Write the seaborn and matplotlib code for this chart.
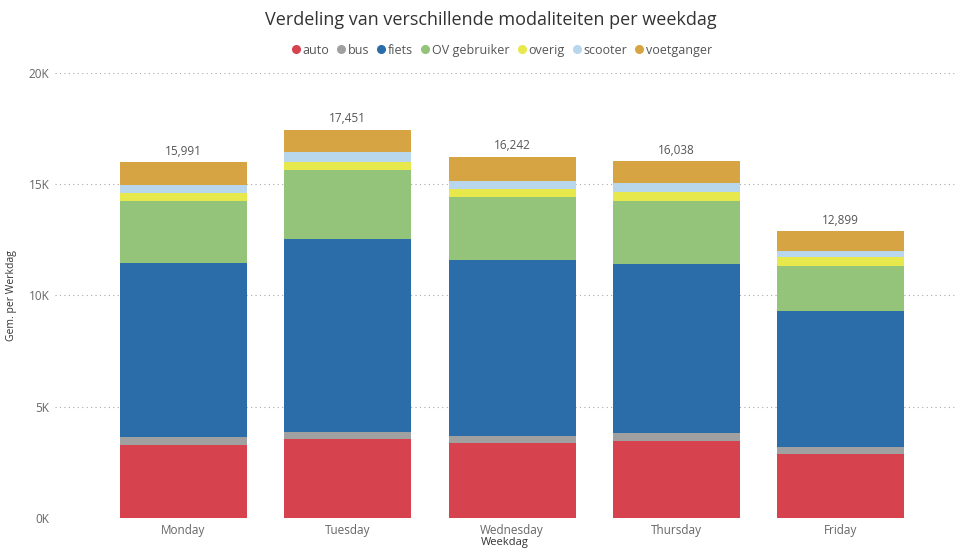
import pandas as pd
import seaborn as sns
import matplotlib.pyplot as plt
from matplotlib.lines import Line2D
from matplotlib.ticker import FuncFormatter

# data (average per weekday)
weekdagen = ["Monday", "Tuesday", "Wednesday", "Thursday", "Friday"]
modaliteiten = ["auto", "bus", "fiets", "OV gebruiker", "overig", "scooter", "voetganger"]
auto = [3280, 3540, 3360, 3480, 2880]
bus = [360, 330, 330, 330, 320]
fiets = [7820, 8670, 7910, 7610, 6100]
ov_gebruiker = [2790, 3100, 2810, 2840, 2030]
overig = [340, 370, 380, 410, 390]
scooter = [380, 450, 370, 370, 290]
voetganger = [1021, 991, 1082, 998, 889]
totalen = [15991, 17451, 16242, 16038, 12899]

kleuren = ["#D6434F", "#A0A0A0", "#2A6DA8", "#93C47A", "#E6E84C", "#B8D6EC", "#D6A443"]


def set_config():
    sns.set_style("white")
    plt.rcParams["font.family"] = ["Open Sans", "DejaVu Sans"]


def build_frame():
    df = pd.DataFrame({
        "Weekdag": weekdagen,
        "auto": auto,
        "bus": bus,
        "fiets": fiets,
        "OV gebruiker": ov_gebruiker,
        "overig": overig,
        "scooter": scooter,
        "voetganger": voetganger,
    })
    # cumulative sums for stacking
    cum = df[modaliteiten].cumsum(axis=1)
    cum["Weekdag"] = df["Weekdag"]
    return cum


def draw(cum):
    fig = plt.figure(figsize=(9.62, 5.52), dpi=100)
    ax = fig.add_axes([0.0572, 0.0616, 0.9356, 0.8062])

    # draw from the top layer down so smaller stacks sit over bigger ones
    for mod, kleur in reversed(list(zip(modaliteiten, kleuren))):
        sns.barplot(data=cum, x="Weekdag", y=mod, color=kleur, width=0.773,
                    saturation=1, ax=ax, zorder=2, linewidth=0, edgecolor="none")

    for i, tot in enumerate(totalen):
        ax.text(i, tot + 200, f"{tot:,}", ha="center", va="bottom",
                fontsize=8.5, color="#555555")

    ax.set_ylim(0, 20000)
    ax.set_xlim(-0.782, 4.696)
    ax.set_yticks([0, 5000, 10000, 15000, 20000])
    ax.yaxis.set_major_formatter(FuncFormatter(lambda v, p: f"{int(v / 1000)}K"))
    ax.grid(axis="y", linestyle=(0, (1, 3)), color="#AAAAAA", linewidth=0.8, zorder=0)
    ax.set_axisbelow(True)
    sns.despine(ax=ax, left=True, bottom=True)
    ax.tick_params(axis="both", length=0, labelsize=8.5, colors="#666666")
    ax.tick_params(axis="y", pad=4)
    ax.tick_params(axis="x", pad=4)

    ax.set_xlabel("Weekdag", fontsize=8, color="#333333", labelpad=0)
    ax.set_ylabel("Gem. per Werkdag", fontsize=7.5, color="#333333")
    ax.yaxis.set_label_coords(-0.042, 0.5)

    fig.text(0.51, 0.963, "Verdeling van verschillende modaliteiten per weekdag",
             ha="center", va="center", fontsize=13, color="#333333")

    handles = [Line2D([0], [0], marker="o", linestyle="", markersize=5.5,
                      markerfacecolor=k, markeredgecolor=k) for k in kleuren]
    leg = fig.legend(handles, modaliteiten, loc="center", bbox_to_anchor=(0.521, 0.909),
                     ncol=7, frameon=False, handletextpad=0.1, columnspacing=0.6,
                     fontsize=9, handlelength=0.8)
    for t in leg.get_texts():
        t.set_color("#555555")

    fig.savefig("out.png", dpi=100)


def main():
    set_config()
    cum = build_frame()
    draw(cum)


if __name__ == "__main__":
    main()
